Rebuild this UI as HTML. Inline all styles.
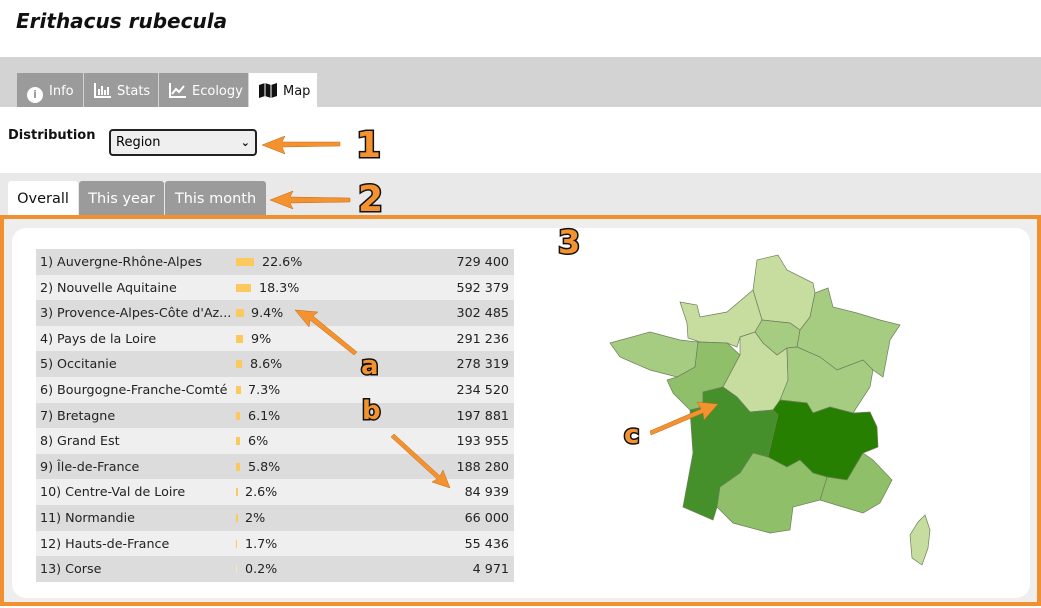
<!DOCTYPE html>
<html><head><meta charset="utf-8"><style>
*{margin:0;padding:0;box-sizing:border-box}
body{width:1041px;height:608px;position:relative;background:#fff;font-family:"DejaVu Sans",Verdana,sans-serif;overflow:hidden}
.a{position:absolute}
.tab{position:absolute;top:73px;height:34px;background:#9b9b9b;color:#fff;font-size:13px;line-height:38px;padding-left:10px}
.t2{position:absolute;top:181px;height:34px;background:#9b9b9b;color:#fff;font-size:14.5px;line-height:36px;text-align:center;border-radius:3px 3px 0 0}
.row{position:absolute;left:36px;width:478px;height:25.6px;font-size:12.7px;line-height:25.6px;color:#222}
.row span{position:absolute}
.bar{top:9px;height:8px;background:#fcc95c}
.ic{display:inline-block;vertical-align:-3px;margin-right:6px}
</style></head><body>
<div class="a" style="left:16px;top:9px;font-size:20px;font-weight:bold;font-style:italic;font-family:'DejaVu Sans',sans-serif;color:#111">Erithacus rubecula</div>
<div class="a" style="left:0;top:57px;width:1041px;height:50px;background:#d3d3d3"></div>
<div class="tab" style="left:17px;width:66px"><span class="ic" style="width:16px;height:16px;border-radius:50%;background:#fff;color:#9b9b9b;font-size:11px;line-height:16px;text-align:center;font-weight:bold">i</span>Info</div>
<div class="tab" style="left:84px;width:74px"><svg class="ic" width="17" height="15"><path d="M1 0V14H17" stroke="#fff" stroke-width="2" fill="none"/><rect x="4" y="6" width="2" height="6" fill="#fff"/><rect x="7" y="3" width="2" height="9" fill="#fff"/><rect x="10" y="7" width="2" height="5" fill="#fff"/><rect x="13" y="4" width="2" height="8" fill="#fff"/></svg>Stats</div>
<div class="tab" style="left:159px;width:89px"><svg class="ic" width="17" height="15"><path d="M1 0V14H17" stroke="#fff" stroke-width="2" fill="none"/><path d="M3 11L7 6L10 9L15 3" stroke="#fff" stroke-width="2" fill="none"/></svg>Ecology</div>
<div class="tab" style="left:249px;width:68px;background:#fff;color:#111"><svg class="ic" width="18" height="15"><path d="M0 2L6 0L12 2L18 0V13L12 15L6 13L0 15Z" fill="#111"/><path d="M6 0V13M12 2V15" stroke="#fff" stroke-width="1"/></svg>Map</div>
<div class="a" style="left:8px;top:128px;font-size:13px;font-weight:bold;color:#111">Distribution</div>
<div class="a" style="left:109px;top:129px;width:148px;height:27px;border:2px solid #222;border-radius:4px;background:#efefef;font-size:13px;line-height:23px;padding-left:5px">Region<span style="position:absolute;right:5px;font-size:11px;font-weight:bold">⌄</span></div>
<div class="a" style="left:0;top:173px;width:1041px;height:42px;background:#e9e9e9"></div>
<div class="t2" style="left:8px;width:70px;background:#fff;color:#111">Overall</div>
<div class="t2" style="left:79px;width:85px">This year</div>
<div class="t2" style="left:165px;width:101px">This month</div>
<div class="a" style="left:0;top:215px;width:1041px;height:391px;border:4px solid #f0902e;background:#eee"></div>
<div class="a" style="left:12px;top:228px;width:1018px;height:370px;background:#fff;border-radius:14px"></div>
<div class="row" style="top:249px;background:#dcdcdc"><span style="left:4px">1) Auvergne-Rhône-Alpes</span><span class="bar" style="left:200px;width:18px"></span><span style="left:226px">22.6%</span><span style="right:5px">729 400</span></div>
<div class="row" style="top:274.6px;background:#efefef"><span style="left:4px">2) Nouvelle Aquitaine</span><span class="bar" style="left:200px;width:15px"></span><span style="left:223px">18.3%</span><span style="right:5px">592 379</span></div>
<div class="row" style="top:300.2px;background:#dcdcdc"><span style="left:4px">3) Provence-Alpes-Côte d'Az...</span><span class="bar" style="left:200px;width:8px"></span><span style="left:215px">9.4%</span><span style="right:5px">302 485</span></div>
<div class="row" style="top:325.8px;background:#efefef"><span style="left:4px">4) Pays de la Loire</span><span class="bar" style="left:200px;width:7px"></span><span style="left:215px">9%</span><span style="right:5px">291 236</span></div>
<div class="row" style="top:351.4px;background:#dcdcdc"><span style="left:4px">5) Occitanie</span><span class="bar" style="left:200px;width:6px"></span><span style="left:214px">8.6%</span><span style="right:5px">278 319</span></div>
<div class="row" style="top:377px;background:#efefef"><span style="left:4px">6) Bourgogne-Franche-Comté</span><span class="bar" style="left:200px;width:5px"></span><span style="left:212px">7.3%</span><span style="right:5px">234 520</span></div>
<div class="row" style="top:402.6px;background:#dcdcdc"><span style="left:4px">7) Bretagne</span><span class="bar" style="left:200px;width:4px"></span><span style="left:212px">6.1%</span><span style="right:5px">197 881</span></div>
<div class="row" style="top:428.2px;background:#efefef"><span style="left:4px">8) Grand Est</span><span class="bar" style="left:200px;width:4px"></span><span style="left:212px">6%</span><span style="right:5px">193 955</span></div>
<div class="row" style="top:453.8px;background:#dcdcdc"><span style="left:4px">9) Île-de-France</span><span class="bar" style="left:200px;width:4px"></span><span style="left:212px">5.8%</span><span style="right:5px">188 280</span></div>
<div class="row" style="top:479.4px;background:#efefef"><span style="left:4px">10) Centre-Val de Loire</span><span class="bar" style="left:200px;width:2px"></span><span style="left:209px">2.6%</span><span style="right:5px">84 939</span></div>
<div class="row" style="top:505px;background:#dcdcdc"><span style="left:4px">11) Normandie</span><span class="bar" style="left:200px;width:2px"></span><span style="left:209px">2%</span><span style="right:5px">66 000</span></div>
<div class="row" style="top:530.6px;background:#efefef"><span style="left:4px">12) Hauts-de-France</span><span class="bar" style="left:200px;width:1px"></span><span style="left:209px">1.7%</span><span style="right:5px">55 436</span></div>
<div class="row" style="top:556.2px;background:#dcdcdc"><span style="left:4px">13) Corse</span><span class="bar" style="left:200px;width:1px;background:#fde7b5"></span><span style="left:209px">0.2%</span><span style="right:5px">4 971</span></div>
<svg class="a" style="left:0;top:0" width="1041" height="608">
<g stroke="#6d7f5a" stroke-width="0.7">
<polygon fill="#c6dd9f" points="757,260 778,255 787,270 813,283 815,293 810,317 800,330 790,323 762,320 753,290"/>
<polygon fill="#c6dd9f" points="680,302 697,305 700,317 727,312 753,290 762,320 755,332 740,337 737,347 727,343 700,342 688,338 687,323"/>
<polygon fill="#a6cc82" points="762,320 790,323 800,330 797,347 787,348 777,355 763,343 755,332"/>
<polygon fill="#a6cc82" points="815,293 828,288 833,307 857,313 880,320 900,325 890,340 883,377 873,370 863,360 837,370 820,357 797,347 800,330 810,317"/>
<polygon fill="#a6cc82" points="610,343 650,332 680,340 698,342 695,367 677,377 650,370 620,357"/>
<polygon fill="#8fbf68" points="698,342 727,343 740,355 723,387 703,392 703,407 690,410 673,393 667,380 677,377 695,367"/>
<polygon fill="#c6dd9f" points="740,337 755,332 763,343 777,355 787,348 788,380 783,400 773,410 750,412 737,397 723,387 740,355"/>
<polygon fill="#a6cc82" points="787,348 797,347 820,357 837,370 863,360 873,370 870,387 853,413 830,407 813,413 807,403 780,400 788,380"/>
<polygon fill="#45902a" points="703,392 723,387 737,397 750,412 773,410 778,415 768,457 753,453 740,473 720,487 717,507 713,520 683,507 693,453 690,410 703,407"/>
<polygon fill="#267f00" points="773,410 780,400 807,403 813,413 830,407 853,413 870,412 877,427 878,447 863,453 847,480 827,477 813,473 800,460 787,467 768,457 778,415"/>
<polygon fill="#8fbf68" points="863,453 873,460 892,480 880,503 863,513 843,507 820,500 827,477 847,480"/>
<polygon fill="#8fbf68" points="720,487 740,473 753,453 768,457 787,467 800,460 813,473 827,477 820,500 793,507 790,530 770,533 733,523 717,507"/>
<polygon fill="#c6dd9f" points="925,515 930,530 928,548 922,565 912,558 910,535 918,522"/>
</g>
<g fill="#f3922f" stroke="#c06a18" stroke-width="0.5">
<polygon points="262,145 285,136 282,142 340,142 340,146 282,147 285,154"/>
<polygon points="270,200 293,191 290,197 350,198 350,202 290,203 293,209"/>
<polygon points="295,310 318,312 313,316 357,352 354,355 310,320 309,327"/>
<polygon points="450,488 432,482 437,479 391,437 394,434 440,476 443,470"/>
<polygon points="718,404 704,420 703,413 651,435 650,431 701,409 697,402"/>
</g>
<g font-family="'DejaVu Sans',sans-serif" font-weight="bold" fill="#f3922f" stroke="#111" stroke-width="3" paint-order="stroke">
<text x="356" y="157" font-size="36">1</text>
<text x="358" y="211" font-size="36">2</text>
<text x="558" y="253" font-size="32">3</text>
<text x="361" y="374" font-size="26">a</text>
<text x="362" y="419" font-size="26">b</text>
<text x="624" y="443" font-size="26">c</text>
</g>
</svg>
</body></html>
